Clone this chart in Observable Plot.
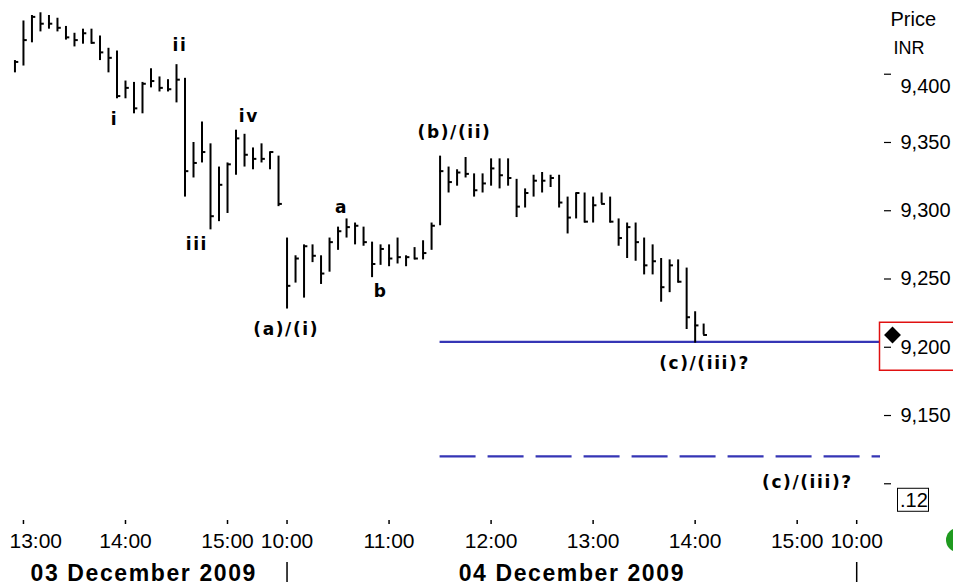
<!DOCTYPE html>
<html><head><meta charset="utf-8">
<script src="https://cdn.jsdelivr.net/npm/d3@7"></script>
<script src="https://cdn.jsdelivr.net/npm/@observablehq/plot@0.6"></script>
<style>
html,body{margin:0;padding:0;background:#fff;}
#chart svg{display:block;overflow:visible}
</style></head><body><div id="chart"></div>
<script>
// ---- data: 5-minute HLC bars, price in INR ----
// Day 1 (03 Dec 2009) bars from 12:55 to 15:30
const high1 = [9410,9439,9443,9445,9443,9441,9435,9430,9433,9433,9428,9419,9417,9395,9394,9394,9404,9398,9396,9407,9397,9350,9365,9349,9332,9335,9359,9356,9346,9349,9343,9340];
const low1  = [9401,9406,9423,9431,9433,9431,9425,9420,9422,9422,9410,9401,9382,9382,9371,9371,9390,9387,9387,9379,9310,9324,9335,9286,9292,9298,9326,9332,9330,9335,9330,9303];
const close1= [9409,9425,9442,9437,9437,9434,9427,9425,9430,9423,9416,9412,9384,9390,9375,9393,9395,9390,9389,9396,9329,9335,9343,9296,9319,9334,9353,9341,9338,9338,9343,9305];
// Day 2 (04 Dec 2009) bars from 10:00 to 14:05
const high2 = [9280,9267,9275,9275,9267,9280,9288,9294,9291,9288,9277,9275,9275,9280,9267,9273,9278,9291,9340,9332,9330,9339,9327,9327,9338,9338,9338,9323,9316,9326,9328,9326,9326,9310,9313,9313,9310,9313,9310,9294,9291,9291,9280,9275,9265,9264,9264,9258,9226,9217];
const low2  = [9228,9247,9236,9262,9246,9255,9271,9280,9275,9274,9251,9260,9259,9261,9259,9264,9264,9271,9289,9313,9318,9324,9310,9313,9318,9316,9318,9295,9302,9310,9313,9317,9302,9283,9294,9291,9291,9305,9291,9274,9265,9263,9253,9253,9233,9240,9247,9213,9203,9209];
const close2= [9245,9265,9274,9267,9254,9277,9285,9288,9289,9277,9261,9272,9265,9266,9266,9265,9269,9289,9329,9321,9328,9327,9315,9320,9331,9326,9324,9303,9313,9322,9322,9324,9306,9295,9313,9292,9304,9305,9292,9280,9288,9277,9260,9263,9244,9260,9248,9222,9216,9209];
const firstBarIndex = -1;           // 12:55 on day 1 (13:00 = bar 0)

// x-axis: bar index of each labelled time
const timeTickIdx   = [0,12,24,31,43,55,67,79,91,98];
const timeTickLabel = ["13:00","14:00","15:00","10:00","11:00","12:00","13:00","14:00","15:00","10:00"];
const dayNames      = ["03 December 2009","04 December 2009"];
const dayEndIdx     = [31,98];      // first bar of the following session

// y-axis
const priceTicks = [9100,9150,9200,9250,9300,9350,9400];
const levelSolid = 9204;
const levelDashed = 9120;
const levelStartIdx = 49;           // (b)/(ii) bar
const markedPrice = 9200;           // boxed label on the axis

// Elliott wave annotations (bar index, price)
const waveText  = ["i","ii","iii","iv","a","b","(a)/(i)","(b)/(ii)","(c)/(iii)?","(c)/(iii)?"];
const waveIdx   = [10.7,18.4,20.4,26.5,37.4,42.0,30.9,50.7,80.1,92.2];
const wavePrice = [9367,9421,9275,9369,9302,9241,9213,9357,9188,9101];

// ---- build ----
const highs = [...high1, ...high2], lows = [...low1, ...low2], closes = [...close1, ...close2];
const bars = highs.map((h, k) => ({i: firstBarIndex + k, high: h, low: lows[k], close: closes[k]}));
const xDomain = [-2.7, 100.8];
const yDomain = [9073.1, 9454.0];
const ticks = timeTickIdx.map((i, k) => ({i, label: timeTickLabel[k]}));
const days = dayNames.map((name, k) => ({name, center: ((k === 0 ? xDomain[0] : dayEndIdx[k-1]) + dayEndIdx[k]) / 2}));
const waves = waveText.map((t, k) => ({t, i: waveIdx[k], p: wavePrice[k]}));
const fmt = d3.format(",");
const blue = "#3535b5";

const plot = Plot.plot({
  width: 953, height: 588,
  marginLeft: 0, marginRight: 73, marginTop: 0, marginBottom: 68,
  x: {domain: xDomain, axis: null},
  y: {domain: yDomain, axis: null},
  style: {fontFamily: "'Liberation Sans', Arial, sans-serif", color: "#000", background: "#fff", overflow: "visible"},
  marks: [
    // support / projection lines
    Plot.ruleY([levelSolid], {y: d => d, x1: levelStartIdx, x2: xDomain[1], stroke: blue, strokeWidth: 2.2}),
    Plot.ruleY([levelDashed], {y: d => d, x1: levelStartIdx, x2: xDomain[1], stroke: blue, strokeWidth: 2.2, strokeDasharray: "36,12"}),
    // HLC bars
    Plot.ruleX(bars, {x: "i", y1: "low", y2: "high", stroke: "#000", strokeWidth: 2}),
    Plot.ruleY(bars, {y: "close", x1: "i", x2: d => d.i + 0.45, stroke: "#000", strokeWidth: 2}),
    // wave labels
    Plot.text(waves, {x: "i", y: "p", text: "t", fontFamily: "'DejaVu Sans', Verdana, sans-serif", fontWeight: "bold", fontSize: 17, fill: "#000"}),
    // right price axis: dashes + labels
    Plot.ruleY(priceTicks, {y: d => d, insetLeft: 884, insetRight: -11, stroke: "#000", strokeWidth: 1.2}),
    Plot.axisY(priceTicks, {anchor: "right", tickSize: 0, tickPadding: 20, fontSize: 20,
      tickFormat: d => (d === 9100 || d === 9400) ? "" : fmt(d)}),
    Plot.text([9400], {y: d => d, text: d => fmt(d), frameAnchor: "right", dx: 20, dy: 12, textAnchor: "start", fontSize: 20}),
    Plot.text(["Price"], {text: d => d, frameAnchor: "top-right", dx: 10, dy: 19, lineAnchor: "middle", textAnchor: "start", fontSize: 20}),
    Plot.text(["INR"], {text: d => d, frameAnchor: "top-right", dx: 13, dy: 48, lineAnchor: "middle", textAnchor: "start", fontSize: 18}),
    // last price marker
    Plot.dot([bars[bars.length - 1]], {x: () => xDomain[1], y: "close", dx: 12, symbol: "diamond2", r: 7.6, fill: "#000", stroke: null}),
    // time axis
    Plot.axisX(timeTickIdx, {anchor: "bottom", tickSize: 4, tickPadding: 9, fontSize: 21, strokeWidth: 1.5,
      tickFormat: (d, k) => k === 0 ? "" : timeTickLabel[k]}),
    Plot.text([ticks[0]], {x: "i", text: "label", frameAnchor: "bottom", dx: -14, dy: 13, lineAnchor: "top", textAnchor: "start", fontSize: 21}),
    Plot.text(days, {x: "center", text: "name", frameAnchor: "bottom", dy: 44, lineAnchor: "top", fontSize: 23, fontWeight: "bold"}),
    Plot.ruleX(dayEndIdx, {x: d => d, insetTop: 562, insetBottom: -62, stroke: "#000", strokeWidth: 1.5})
  ]
});
document.getElementById("chart").appendChild(plot);

// letter spacing of the bitmap-like label fonts
const waveSet = new Set(waveText), daySet = new Set(dayNames);
plot.querySelectorAll("text").forEach(t => {
  if (waveSet.has(t.textContent)) t.style.letterSpacing = "1.6px";
  else if (daySet.has(t.textContent)) t.style.letterSpacing = "1.6px";
});

// decorations on the price axis
const y = plot.scale("y");
const svg = d3.select(plot);
const ym = y.apply(markedPrice);
svg.append("rect").attr("x", 879.5).attr("y", ym - 24.5).attr("width", 90).attr("height", 48)
  .attr("fill", "none").attr("stroke", "#e01010").attr("stroke-width", 1.5);
const yb = y.apply(priceTicks[0]);
svg.append("rect").attr("x", 897.5).attr("y", yb + 5).attr("width", 31).attr("height", 23)
  .attr("fill", "#fff").attr("stroke", "#000").attr("stroke-width", 1);
svg.append("text").attr("x", 900).attr("y", yb + 24).attr("text-anchor", "start").attr("font-size", 20).attr("fill", "#000").text(".12");
svg.append("circle").attr("cx", 958).attr("cy", 540).attr("r", 12).attr("fill", "#1f9a1f");
</script></body></html>
